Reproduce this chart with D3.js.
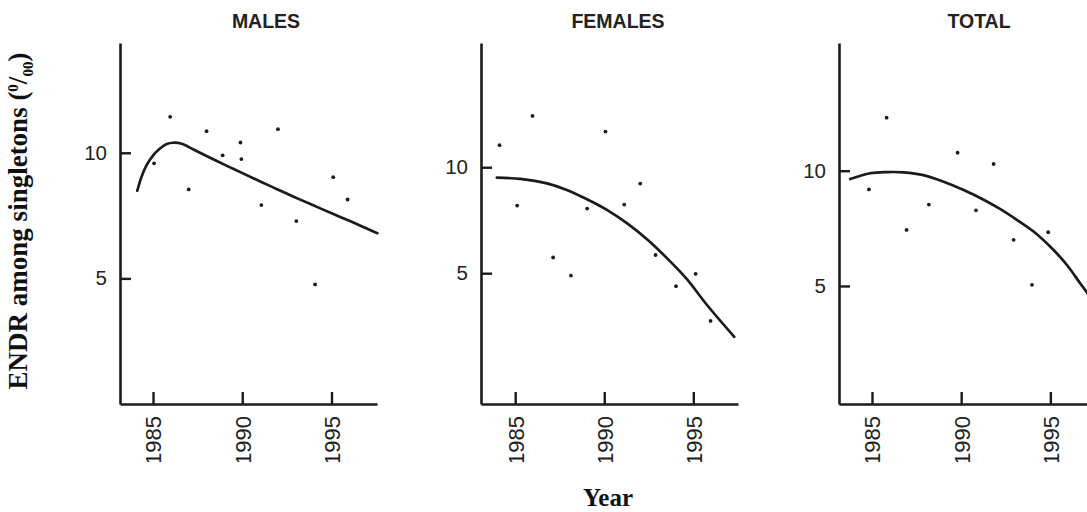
<!DOCTYPE html>
<html>
<head>
<meta charset="utf-8">
<script src="https://cdn.jsdelivr.net/npm/d3@7"></script>
<style>
  body { margin: 0; background: #fff; }
  svg { display: block; }
</style>
</head>
<body>
<div id="chart-container"></div>
<script>
const malesYears = [1985.06, 1985.96, 1987.0, 1988.0, 1988.9, 1989.9, 1989.95, 1991.07, 1992.0, 1993.03, 1994.08, 1995.1, 1995.9];
const malesRates = [9.58, 11.43, 8.54, 10.86, 9.9, 10.41, 9.75, 7.92, 10.94, 7.28, 4.76, 9.03, 8.14];
const malesFitYears = [1984.12, 1984.36, 1984.64, 1985.02, 1985.39, 1985.77, 1986.14, 1986.61, 1987.27, 1988.2, 1989.14, 1989.98, 1991.01, 1991.95, 1992.88, 1993.82, 1995.04, 1996.07, 1997.57];
const malesFitRates = [8.49, 9.05, 9.51, 9.91, 10.17, 10.35, 10.40, 10.36, 10.13, 9.80, 9.48, 9.20, 8.86, 8.55, 8.25, 7.96, 7.58, 7.27, 6.80];

const femalesYears = [1984.12, 1985.11, 1985.97, 1987.13, 1988.13, 1989.04, 1990.07, 1991.12, 1992.02, 1992.88, 1994.03, 1995.13, 1995.97];
const femalesRates = [11.04, 8.19, 12.42, 5.74, 4.89, 8.05, 11.68, 8.24, 9.23, 5.86, 4.39, 4.97, 2.75];
const femalesFitYears = [1983.97, 1985.28, 1986.78, 1987.9, 1989.03, 1990.15, 1991.27, 1992.4, 1993.52, 1994.64, 1995.77, 1997.3];
const femalesFitRates = [9.51, 9.45, 9.24, 8.93, 8.49, 7.99, 7.36, 6.60, 5.71, 4.72, 3.50, 2.00];

const totalYears = [1984.83, 1985.82, 1986.94, 1988.19, 1989.8, 1990.83, 1991.82, 1992.94, 1993.97, 1994.88];
const totalRates = [9.19, 12.30, 7.43, 8.53, 10.78, 8.28, 10.29, 7.0, 5.05, 7.33];
const totalFitYears = [1983.78, 1984.9, 1985.84, 1986.77, 1987.89, 1989.02, 1990.14, 1991.26, 1992.2, 1993.1, 1994.06, 1995.18, 1995.93, 1996.67, 1997.07, 1997.5];
const totalFitRates = [9.64, 9.89, 9.94, 9.93, 9.81, 9.52, 9.16, 8.74, 8.33, 7.88, 7.36, 6.56, 5.91, 5.12, 4.70, 4.20];

const panelTitles = ['MALES', 'FEMALES', 'TOTAL'];
const yearTicks = [1985, 1990, 1995];
const rateTicks = [5, 10];

// layout of each panel (pixel positions of the axes)
const panels = [
  { title: panelTitles[0], years: malesYears, rates: malesRates, fitYears: malesFitYears, fitRates: malesFitRates,
    left: 120, right: 377, xDomain: [1983.15, 1997.55], yDomain: [0, 14.37], titleX: 266 },
  { title: panelTitles[1], years: femalesYears, rates: femalesRates, fitYears: femalesFitYears, fitRates: femalesFitRates,
    left: 481, right: 738, xDomain: [1983.08, 1997.51], yDomain: [-1.17, 15.86], titleX: 618 },
  { title: panelTitles[2], years: totalYears, rates: totalRates, fitYears: totalFitYears, fitRates: totalFitRates,
    left: 839, right: 1096, xDomain: [1983.15, 1997.56], yDomain: [-0.12, 15.54], titleX: 979 }
];

const width = 1087;
const height = 512;
const plotTop = 43;
const plotBottom = 404;
const ink = '#1b1b1b';

const svg = d3
  .select('#chart-container')
  .append('svg')
  .attr('width', width)
  .attr('height', height);

svg.append('rect').attr('width', width).attr('height', height).attr('fill', '#fff');

// the source figure is cut off just below the year labels
svg.append('defs')
  .append('clipPath')
  .attr('id', 'crop')
  .append('rect')
  .attr('x', 0)
  .attr('y', 0)
  .attr('width', width)
  .attr('height', 462);

const plots = svg.append('g').attr('clip-path', 'url(#crop)');

panels.forEach((p) => {
  const x = d3.scaleLinear().domain(p.xDomain).range([p.left, p.right]);
  const y = d3.scaleLinear().domain(p.yDomain).range([plotBottom, plotTop]);

  const g = plots.append('g');

  // y axis
  const yAxis = g.append('g')
    .attr('transform', `translate(${p.left},0)`)
    .call(d3.axisLeft(y).tickValues(rateTicks).tickSizeInner(-11).tickSizeOuter(0).tickPadding(13));

  // x axis
  const xAxis = g.append('g')
    .attr('transform', `translate(0,${plotBottom})`)
    .call(d3.axisBottom(x).tickValues(yearTicks).tickFormat(d3.format('d')).tickSizeInner(-12).tickSizeOuter(0));

  xAxis.selectAll('text')
    .attr('transform', 'rotate(-90)')
    .attr('x', -12)
    .attr('y', 0)
    .attr('dy', '0.36em')
    .attr('text-anchor', 'end')
    .style('font-size', '22px');

  yAxis.selectAll('text').style('font-size', '20.5px');

  [xAxis, yAxis].forEach((a) => {
    a.select('.domain').attr('stroke', ink).attr('stroke-width', 2.6);
    a.selectAll('.tick line').attr('stroke', ink).attr('stroke-width', 2.4);
    a.selectAll('text')
      .attr('fill', '#222')
      .style('font-family', '"Liberation Sans", Arial, Helvetica, sans-serif');
  });

  // fitted curve
  const line = d3.line()
    .x((d) => x(d[0]))
    .y((d) => y(d[1]))
    .curve(d3.curveCatmullRom.alpha(0.5));

  g.append('path')
    .datum(d3.zip(p.fitYears, p.fitRates))
    .attr('d', line)
    .attr('fill', 'none')
    .attr('stroke', ink)
    .attr('stroke-width', 2.7)
    .attr('stroke-linecap', 'round');

  // observed values
  g.selectAll('.dot')
    .data(d3.zip(p.years, p.rates))
    .enter()
    .append('circle')
    .attr('class', 'dot')
    .attr('cx', (d) => x(d[0]))
    .attr('cy', (d) => y(d[1]))
    .attr('r', 1.9)
    .attr('fill', ink);

  // panel title
  g.append('text')
    .attr('x', p.titleX)
    .attr('y', 28)
    .attr('text-anchor', 'middle')
    .attr('fill', '#222')
    .style('font-family', '"Liberation Sans", Arial, Helvetica, sans-serif')
    .style('font-weight', 'bold')
    .style('font-size', '19.5px')
    .text(p.title);
});

// shared axis titles
const yTitle = svg.append('text')
  .attr('transform', 'translate(27,221) rotate(-90)')
  .attr('text-anchor', 'middle')
  .attr('fill', '#111')
  .style('font-family', '"Liberation Serif", "Times New Roman", serif')
  .style('font-weight', 'bold')
  .style('font-size', '27px');

yTitle.append('tspan').text('ENDR among singletons (');
yTitle.append('tspan').attr('dy', -9).style('font-size', '15px').text('0');
yTitle.append('tspan').attr('dy', 9).text('/');
yTitle.append('tspan').attr('dy', 6).style('font-size', '15px').text('00');
yTitle.append('tspan').attr('dy', -6).text(')');

svg.append('text')
  .attr('x', 608)
  .attr('y', 506)
  .attr('text-anchor', 'middle')
  .attr('fill', '#111')
  .style('font-family', '"Liberation Serif", "Times New Roman", serif')
  .style('font-weight', 'bold')
  .style('font-size', '25px')
  .text('Year');
</script>
</body>
</html>
